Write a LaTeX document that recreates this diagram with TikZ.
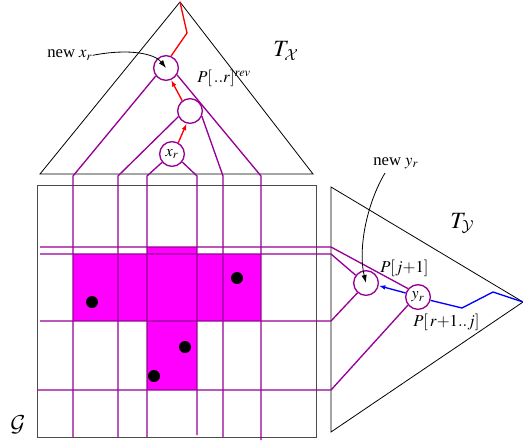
\documentclass[tikz,border=0pt]{standalone}
\usepackage{mathptmx}
\usepackage[no-math]{fontspec}
\setmainfont{Liberation Serif}
\DeclareMathAlphabet{\mathcalx}{OMS}{cmsy}{m}{n}
\usetikzlibrary{arrows.meta}
\definecolor{pur}{RGB}{150,0,150}
\definecolor{mag}{RGB}{255,0,255}
\begin{document}
\begin{tikzpicture}[x=0.75pt,y=-0.75pt,
  pl/.style={draw=pur,line width=1pt,line join=round},
  bl/.style={draw=black,line width=0.6pt},
  sq/.style={draw=black!70,line width=0.6pt},
  tnode/.style={circle,draw=pur,line width=1pt,fill=white,minimum size=18.5pt,inner sep=0pt,font=\fontsize{12}{13}\selectfont},
  lbl/.style={inner sep=0pt,font=\fontsize{12.5}{14}\selectfont},
  big/.style={inner sep=0pt,font=\fontsize{17.5}{19}\selectfont},
  dotnode/.style={circle,fill=black,minimum size=9pt,inner sep=0pt},
  redline/.style={draw=red,line width=1pt},
  rarr/.style={draw=red,line width=1pt,-{Latex[length=5pt,width=3.5pt]}},
  blueline/.style={draw=blue,line width=1pt},
  barr/.style={draw=blue,line width=1pt,-{Latex[length=5pt,width=3.5pt]}},
  carr/.style={draw=black,line width=0.6pt,-{Latex[length=6pt,width=4pt]}}]
\useasboundingbox (0,0) rectangle (523,442);
% magenta region
\fill[mag] (73,254) rectangle (261,321);
\fill[mag] (147,247) rectangle (197,390);
% triangles and grid square
\coordinate (tA) at (180,2);
\coordinate (tL) at (40,174);
\coordinate (tR) at (313,174);
\draw[bl] (tA) -- (tL) -- (tR) -- cycle;
\coordinate (gTL) at (37,185);
\coordinate (gBR) at (316,437);
\draw[sq] (gTL) rectangle (gBR);
\coordinate (rT) at (331,187);
\coordinate (rB) at (331,432);
\coordinate (rA) at (523,302);
\draw[bl] (rT) -- (rB) -- (rA) -- cycle;
% tree nodes
\node[tnode] (nxr) at (166,68) {};
\node[tnode] (mid) at (190,111) {};
\node[tnode] (xr) at (172,154) {$x_r$};
\node[tnode] (pj) at (366,283) {};
\node[tnode] (yr) at (418,297) {$y_r$};
% vertical purple lines
\coordinate (v1) at (73,437);
\coordinate (v2) at (118,437);
\coordinate (v3) at (147,437);
\coordinate (v4) at (197,435);
\coordinate (v5) at (223,437);
\coordinate (v6) at (261,440);
\draw[pl] (v1) -- (73,176) -- (nxr.218);
\draw[pl] (v2) -- (118,176) -- (mid.206);
\draw[pl] (v3) -- (147,176) -- (xr.220);
\draw[pl] (v4) -- (197,176) -- (xr.322);
\draw[pl] (v5) -- (223,176) -- (mid.336);
\draw[pl] (v6) -- (261,176) -- (nxr.328);
% horizontal purple lines
\coordinate (h1) at (40,247);
\coordinate (h2) at (40,254);
\coordinate (h3) at (40,321);
\coordinate (h4) at (37,390);
\draw[pl] (h1) -- (331,247) -- (yr.140);
\draw[pl] (h2) -- (331,254) -- (pj.143);
\draw[pl] (h3) -- (331,321) -- (pj.229);
\draw[pl] (h4) -- (331,390) -- (yr.219);
% points
\node[dotnode] (d1) at (92,302) {};
\node[dotnode] (d2) at (237,278) {};
\node[dotnode] (d3) at (185,347) {};
\node[dotnode] (d4) at (154,376) {};
% red path
\draw[redline] (tA) -- (187,33) -- (nxr.67);
\draw[rarr] (mid.127) -- (nxr.293);
\draw[rarr] (xr.61) -- (mid.255);
% blue path
\draw[blueline] (rA) -- (493,292) -- (462,308) -- (yr.345);
\draw[barr] (yr.162) -- (pj.348);
% labels
\node[lbl,anchor=base west] (lnx) at (47,58) {new $x_r$};
\draw[carr] (lnx.east) .. controls (130,48) and (155,54) .. (nxr.center);
\node[lbl,anchor=base west] (lny) at (373,165) {new $y_r$};
\coordinate (cny) at (385,173);
\draw[carr] (cny) .. controls (366,205) and (358,250) .. (pj.center);
\node[lbl,anchor=base west] (lp1) at (197,83) {$P[\,..r]^{rev}$};
\node[lbl,anchor=base west] (lp2) at (380,272) {$P[j{+}1]$};
\node[lbl,anchor=base west] (lp3) at (413,326) {$P[\,r{+}1..j]$};
\node[big,anchor=base west] (tx) at (273,57) {$T_{\mathcalx{X}}$};
\node[big,anchor=base west] (ty) at (450,228) {$T_{\mathcalx{Y}}$};
\node[big] (gg) at (18,425) {$\mathcalx{G}$};
\end{tikzpicture}
\end{document}
